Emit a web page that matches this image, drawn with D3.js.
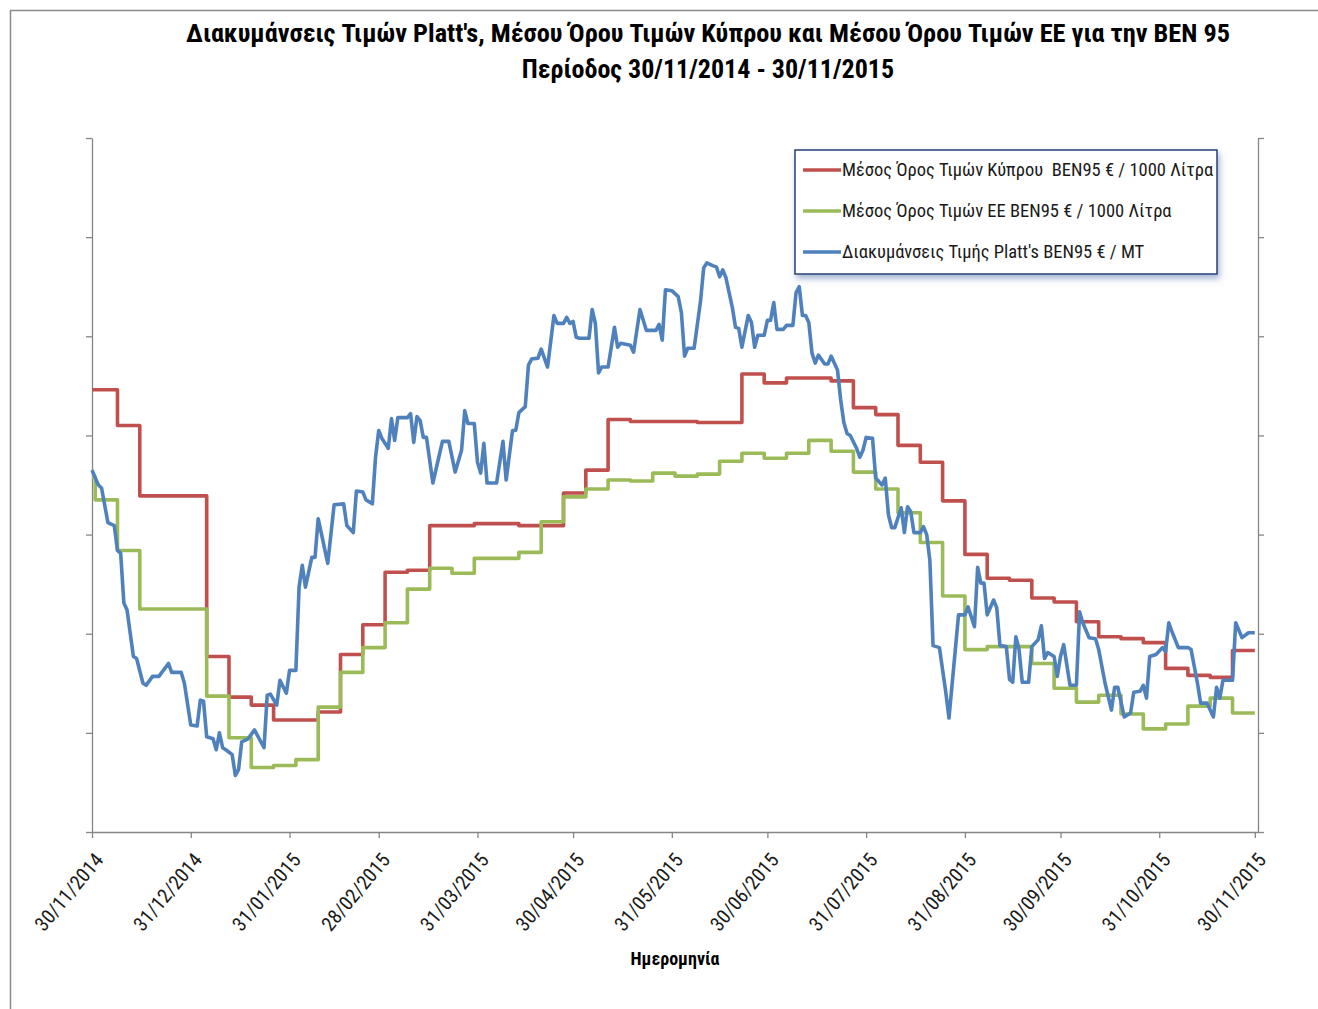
<!DOCTYPE html>
<html>
<head>
<meta charset="utf-8">
<script src="https://cdn.jsdelivr.net/npm/d3@7"></script>
<style>
  body { margin: 0; background: #fff; }
  text { font-family: 'Liberation Sans Narrow', 'Roboto Condensed', 'Arial Narrow', sans-serif; }
</style>
</head>
<body>
<div id="myChart"></div>
<script>
// titles and labels
const titleLines = ["Διακυμάνσεις Τιμών Platt's, Μέσου Όρου Τιμών Κύπρου και Μέσου Όρου Τιμών ΕΕ για την BEN 95",
                    "Περίοδος 30/11/2014 - 30/11/2015"];
const xAxisTitle = "Ημερομηνία";
const seriesNames = ["Μέσος Όρος Τιμών Κύπρου  BEN95 € / 1000 Λίτρα",
                     "Μέσος Όρος Τιμών ΕΕ BEN95 € / 1000 Λίτρα",
                     "Διακυμάνσεις Τιμής Platt's BEN95 € / MT"];
const seriesColors = ["#c0504d", "#9bbb59", "#4f81bd"];
const xTickLabels = ["30/11/2014", "31/12/2014", "31/01/2015", "28/02/2015", "31/03/2015", "30/04/2015",
                     "31/05/2015", "30/06/2015", "31/07/2015", "31/08/2015", "30/09/2015", "31/10/2015", "30/11/2015"];
const yTicks = [0, 100, 200, 300, 400, 500, 600, 700];

// Cyprus average (weekly steps)
const cyprus = [
  ["2014-11-30", 446], ["2014-12-08", 410], ["2014-12-15", 339], ["2015-01-05", 177], ["2015-01-12", 136],
  ["2015-01-19", 128], ["2015-01-26", 113], ["2015-02-09", 121], ["2015-02-16", 179], ["2015-02-23", 209],
  ["2015-03-02", 262], ["2015-03-09", 264], ["2015-03-16", 309], ["2015-03-30", 311], ["2015-04-13", 309],
  ["2015-04-27", 342], ["2015-05-04", 365], ["2015-05-11", 416], ["2015-05-18", 414], ["2015-06-08", 413],
  ["2015-06-22", 462], ["2015-06-29", 453], ["2015-07-06", 458], ["2015-07-20", 455], ["2015-07-27", 428],
  ["2015-08-03", 421], ["2015-08-10", 390], ["2015-08-17", 373], ["2015-08-24", 334], ["2015-08-31", 280],
  ["2015-09-07", 256], ["2015-09-14", 254], ["2015-09-21", 236], ["2015-09-28", 232], ["2015-10-05", 212],
  ["2015-10-12", 197], ["2015-10-19", 195], ["2015-10-26", 191], ["2015-11-02", 165], ["2015-11-09", 158],
  ["2015-11-16", 156], ["2015-11-23", 183], ["2015-11-30", 183]
];

// EU average (weekly steps)
const eu = [
  ["2014-11-30", 358], ["2014-12-01", 335], ["2014-12-08", 284], ["2014-12-15", 225], ["2015-01-05", 137],
  ["2015-01-12", 95], ["2015-01-19", 65], ["2015-01-26", 67], ["2015-02-02", 73], ["2015-02-09", 126],
  ["2015-02-16", 161], ["2015-02-23", 186], ["2015-03-02", 211], ["2015-03-09", 245], ["2015-03-16", 266],
  ["2015-03-23", 261], ["2015-03-30", 276], ["2015-04-13", 282], ["2015-04-20", 313], ["2015-04-27", 338],
  ["2015-05-04", 346], ["2015-05-11", 355], ["2015-05-18", 354], ["2015-05-25", 362], ["2015-06-01", 359],
  ["2015-06-08", 361], ["2015-06-15", 374], ["2015-06-22", 382], ["2015-06-29", 377], ["2015-07-06", 382],
  ["2015-07-13", 395], ["2015-07-20", 384], ["2015-07-27", 363], ["2015-08-03", 346], ["2015-08-10", 322],
  ["2015-08-17", 292], ["2015-08-24", 238], ["2015-08-31", 184], ["2015-09-07", 187], ["2015-09-21", 170],
  ["2015-09-28", 145], ["2015-10-05", 131], ["2015-10-12", 138], ["2015-10-19", 119], ["2015-10-26", 104],
  ["2015-11-02", 109], ["2015-11-09", 127], ["2015-11-16", 135], ["2015-11-23", 120], ["2015-11-30", 120]
];

// Platt's daily quotes
const platts = [
  ["2014-11-30", 365], ["2014-12-02", 350], ["2014-12-03", 347], ["2014-12-05", 312], ["2014-12-07", 309],
  ["2014-12-08", 284], ["2014-12-09", 281], ["2014-12-10", 231], ["2014-12-11", 224], ["2014-12-13", 177],
  ["2014-12-14", 175], ["2014-12-16", 150], ["2014-12-17", 148], ["2014-12-19", 157], ["2014-12-21", 157],
  ["2014-12-24", 170], ["2014-12-25", 161], ["2014-12-28", 161], ["2014-12-29", 150], ["2014-12-31", 108],
  ["2015-01-02", 107], ["2015-01-03", 133], ["2015-01-04", 132], ["2015-01-05", 96], ["2015-01-07", 94],
  ["2015-01-08", 83], ["2015-01-09", 100], ["2015-01-10", 85], ["2015-01-11", 83], ["2015-01-13", 78],
  ["2015-01-14", 57], ["2015-01-15", 63], ["2015-01-16", 91], ["2015-01-18", 94], ["2015-01-20", 103],
  ["2015-01-23", 85], ["2015-01-24", 138], ["2015-01-25", 139], ["2015-01-27", 128], ["2015-01-28", 153],
  ["2015-01-30", 140], ["2015-01-31", 163], ["2015-02-02", 163], ["2015-02-03", 247], ["2015-02-04", 269],
  ["2015-02-05", 247], ["2015-02-07", 277], ["2015-02-08", 277], ["2015-02-09", 316], ["2015-02-12", 271],
  ["2015-02-14", 330], ["2015-02-17", 331], ["2015-02-18", 309], ["2015-02-20", 302], ["2015-02-21", 344],
  ["2015-02-23", 343], ["2015-02-24", 335], ["2015-02-26", 331], ["2015-02-27", 378], ["2015-02-28", 405],
  ["2015-03-01", 397], ["2015-03-03", 387], ["2015-03-04", 417], ["2015-03-05", 395], ["2015-03-06", 418],
  ["2015-03-09", 418], ["2015-03-10", 422], ["2015-03-11", 393], ["2015-03-12", 419], ["2015-03-13", 415],
  ["2015-03-14", 398], ["2015-03-15", 398], ["2015-03-17", 352], ["2015-03-19", 380], ["2015-03-20", 394],
  ["2015-03-22", 394], ["2015-03-24", 363], ["2015-03-26", 385], ["2015-03-27", 425], ["2015-03-28", 412],
  ["2015-03-30", 412], ["2015-03-31", 373], ["2015-04-01", 362], ["2015-04-02", 392], ["2015-04-03", 352],
  ["2015-04-06", 352], ["2015-04-08", 394], ["2015-04-09", 355], ["2015-04-11", 405], ["2015-04-12", 405],
  ["2015-04-13", 423], ["2015-04-15", 429], ["2015-04-16", 471], ["2015-04-17", 477], ["2015-04-19", 478],
  ["2015-04-20", 487], ["2015-04-22", 469], ["2015-04-24", 521], ["2015-04-25", 513], ["2015-04-27", 513],
  ["2015-04-28", 519], ["2015-04-29", 513], ["2015-04-30", 515], ["2015-05-01", 499], ["2015-05-02", 498],
  ["2015-05-05", 498], ["2015-05-06", 527], ["2015-05-07", 513], ["2015-05-08", 463], ["2015-05-09", 469],
  ["2015-05-11", 469], ["2015-05-13", 509], ["2015-05-14", 489], ["2015-05-15", 493], ["2015-05-18", 491],
  ["2015-05-19", 484], ["2015-05-21", 527], ["2015-05-23", 506], ["2015-05-26", 506], ["2015-05-27", 512],
  ["2015-05-28", 496], ["2015-05-29", 547], ["2015-05-31", 546], ["2015-06-02", 540], ["2015-06-03", 524],
  ["2015-06-04", 480], ["2015-06-05", 488], ["2015-06-07", 488], ["2015-06-09", 535], ["2015-06-10", 569],
  ["2015-06-11", 574], ["2015-06-13", 571], ["2015-06-14", 570], ["2015-06-15", 560], ["2015-06-16", 567],
  ["2015-06-17", 559], ["2015-06-19", 529], ["2015-06-20", 509], ["2015-06-21", 508], ["2015-06-22", 489],
  ["2015-06-24", 521], ["2015-06-25", 514], ["2015-06-26", 489], ["2015-06-27", 501], ["2015-06-29", 501],
  ["2015-06-30", 516], ["2015-07-01", 516], ["2015-07-02", 534], ["2015-07-03", 507], ["2015-07-05", 507],
  ["2015-07-06", 511], ["2015-07-08", 511], ["2015-07-09", 544], ["2015-07-10", 550], ["2015-07-11", 521],
  ["2015-07-12", 521], ["2015-07-13", 514], ["2015-07-14", 483], ["2015-07-15", 473], ["2015-07-16", 481],
  ["2015-07-18", 472], ["2015-07-19", 472], ["2015-07-20", 480], ["2015-07-22", 466], ["2015-07-23", 436],
  ["2015-07-24", 413], ["2015-07-25", 402], ["2015-07-26", 400], ["2015-07-28", 387], ["2015-07-29", 378],
  ["2015-07-30", 385], ["2015-07-31", 398], ["2015-08-02", 397], ["2015-08-03", 357], ["2015-08-05", 350],
  ["2015-08-06", 357], ["2015-08-07", 320], ["2015-08-08", 307], ["2015-08-09", 307], ["2015-08-11", 327],
  ["2015-08-12", 302], ["2015-08-13", 328], ["2015-08-14", 323], ["2015-08-15", 302], ["2015-08-17", 302],
  ["2015-08-18", 308], ["2015-08-19", 300], ["2015-08-20", 274], ["2015-08-21", 188], ["2015-08-23", 186],
  ["2015-08-25", 141], ["2015-08-26", 115], ["2015-08-29", 219], ["2015-08-31", 219], ["2015-09-01", 227],
  ["2015-09-03", 207], ["2015-09-04", 267], ["2015-09-05", 251], ["2015-09-06", 251], ["2015-09-07", 219],
  ["2015-09-09", 234], ["2015-09-10", 226], ["2015-09-11", 188], ["2015-09-13", 187], ["2015-09-14", 154],
  ["2015-09-15", 151], ["2015-09-16", 197], ["2015-09-17", 184], ["2015-09-18", 151], ["2015-09-20", 151],
  ["2015-09-21", 187], ["2015-09-23", 194], ["2015-09-24", 208], ["2015-09-25", 175], ["2015-09-26", 181],
  ["2015-09-28", 177], ["2015-09-29", 157], ["2015-09-30", 177], ["2015-10-01", 189], ["2015-10-03", 148],
  ["2015-10-05", 148], ["2015-10-06", 222], ["2015-10-07", 211], ["2015-10-09", 196], ["2015-10-11", 195],
  ["2015-10-12", 184], ["2015-10-14", 150], ["2015-10-16", 123], ["2015-10-17", 146], ["2015-10-18", 146],
  ["2015-10-20", 116], ["2015-10-22", 120], ["2015-10-23", 141], ["2015-10-25", 142], ["2015-10-26", 148],
  ["2015-10-27", 135], ["2015-10-28", 177], ["2015-10-30", 179], ["2015-11-01", 186], ["2015-11-02", 182],
  ["2015-11-03", 211], ["2015-11-04", 202], ["2015-11-06", 186], ["2015-11-09", 186], ["2015-11-10", 184],
  ["2015-11-12", 150], ["2015-11-13", 130], ["2015-11-15", 130], ["2015-11-17", 116], ["2015-11-18", 146],
  ["2015-11-19", 135], ["2015-11-20", 153], ["2015-11-23", 153], ["2015-11-24", 211], ["2015-11-26", 196],
  ["2015-11-28", 201], ["2015-11-30", 201]
];

// set the dimensions and margins of the graph
const W = 1318, H = 1009;
const margin = {top: 138, right: 60, bottom: 177, left: 92};

const svg = d3.select("#myChart")
  .append("svg")
    .attr("width", W)
    .attr("height", H);

const defs = svg.append("defs");
const shadow = defs.append("filter").attr("id", "legendShadow")
  .attr("x", "-10%").attr("y", "-10%").attr("width", "130%").attr("height", "150%");
shadow.append("feDropShadow")
  .attr("dx", 2).attr("dy", 4).attr("stdDeviation", 3)
  .attr("flood-color", "#5a78b0").attr("flood-opacity", 0.55);

// outer chart frame
svg.append("rect")
  .attr("x", 10.5).attr("y", 10.5)
  .attr("width", W).attr("height", H)
  .attr("fill", "none")
  .attr("stroke", "#8a8a8a")
  .attr("stroke-width", 1.5);

const parseIso = d3.timeParse("%Y-%m-%d");
const parseDmy = d3.timeParse("%d/%m/%Y");

const x = d3.scaleTime()
  .domain([parseIso("2014-11-30"), parseIso("2015-12-01")])
  .range([margin.left, W - margin.right]);

const y = d3.scaleLinear()
  .domain([0, 700])
  .range([H - margin.bottom, margin.top]);

// axes
const axisColor = "#868686";
svg.append("g")
  .attr("transform", `translate(0, ${H - margin.bottom})`)
  .call(d3.axisBottom(x)
    .tickValues(xTickLabels.map(parseDmy))
    .tickFormat("")
    .tickSize(6)
    .tickSizeOuter(0));

svg.append("g")
  .attr("transform", `translate(${margin.left}, 0)`)
  .call(d3.axisLeft(y).tickValues(yTicks).tickFormat("").tickSize(6).tickSizeOuter(0));

svg.append("g")
  .attr("transform", `translate(${W - margin.right}, 0)`)
  .call(d3.axisRight(y).tickValues(yTicks).tickFormat("").tickSize(6).tickSizeOuter(0));

svg.selectAll(".domain, .tick line")
  .attr("stroke", axisColor)
  .attr("stroke-width", 1.3);

// rotated date labels
svg.append("g")
  .selectAll("text")
  .data(xTickLabels)
  .join("text")
    .attr("transform", d => `translate(${x(parseDmy(d)) + 7}, ${H - margin.bottom + 24}) rotate(-50)`)
    .attr("text-anchor", "end")
    .attr("dy", "0.35em")
    .attr("font-size", "20px")
    .attr("fill", "#1a1a1a")
    .text(d => d);

// lines
const stepLine = d3.line()
  .x(d => x(parseIso(d[0])))
  .y(d => y(d[1]))
  .curve(d3.curveStepAfter);

const plainLine = d3.line()
  .x(d => x(parseIso(d[0])))
  .y(d => y(d[1]));

const series = [
  {data: cyprus, gen: stepLine},
  {data: eu, gen: stepLine},
  {data: platts, gen: plainLine}
];

svg.append("g")
  .selectAll("path")
  .data(series)
  .join("path")
    .attr("d", d => d.gen(d.data))
    .attr("fill", "none")
    .attr("stroke", (d, i) => seriesColors[i])
    .attr("stroke-width", 3.6)
    .attr("stroke-linejoin", "round");

// title
svg.append("g")
  .selectAll("text")
  .data(titleLines)
  .join("text")
    .attr("x", 708)
    .attr("y", (d, i) => 42 + i * 36)
    .attr("text-anchor", "middle")
    .attr("font-size", (d, i) => i === 0 ? "26.3px" : "26px")
    .attr("font-weight", "bold")
    .attr("fill", "#000")
    .text(d => d);

// x axis title
svg.append("text")
  .attr("x", (margin.left + W - margin.right) / 2)
  .attr("y", 965)
  .attr("text-anchor", "middle")
  .attr("font-size", "18px")
  .attr("font-weight", "bold")
  .attr("fill", "#000")
  .text(xAxisTitle);

// legend
const legend = svg.append("g").attr("transform", "translate(795, 150)");
legend.append("rect")
  .attr("width", 422).attr("height", 124)
  .attr("fill", "#fff")
  .attr("stroke", "#243f77")
  .attr("stroke-width", 1.5)
  .attr("filter", "url(#legendShadow)");

const items = legend.selectAll("g.item")
  .data(seriesNames)
  .join("g")
    .attr("class", "item")
    .attr("transform", (d, i) => `translate(0, ${20 + i * 41})`);

items.append("line")
  .attr("x1", 8).attr("x2", 46)
  .attr("stroke", (d, i) => seriesColors[i])
  .attr("stroke-width", 3.6);

items.append("text")
  .attr("x", 47)
  .attr("dy", "0.35em")
  .attr("font-size", "18.5px")
  .attr("fill", "#1a1a1a")
  .style("white-space", "pre")
  .text(d => d);
</script>
</body>
</html>
